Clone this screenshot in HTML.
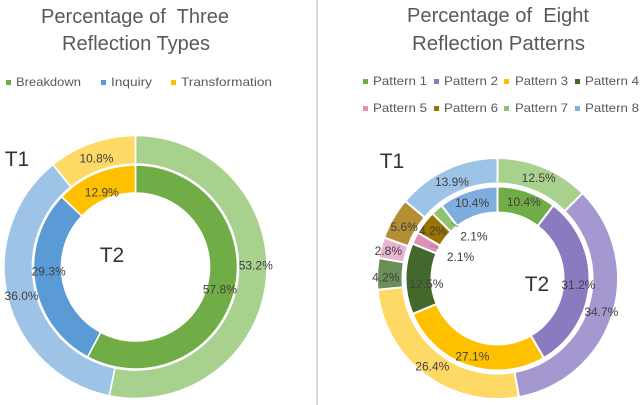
<!DOCTYPE html>
<html>
<head>
<meta charset="utf-8">
<style>
html,body{margin:0;padding:0;background:#fff;}
svg{display:block;}
text{font-family:"Liberation Sans",sans-serif;}
</style>
</head>
<body>
<svg id="chart" width="640" height="405" viewBox="0 0 640 405" xmlns="http://www.w3.org/2000/svg">
  <rect x="0" y="0" width="640" height="405" fill="#fff"/>
  <rect x="316" y="0" width="2" height="405" fill="#d9d9d9"/>

  <g fill="#595959" font-size="20">
    <text x="41" y="23" textLength="188" lengthAdjust="spacingAndGlyphs" xml:space="preserve">Percentage of  Three</text>
    <text x="62" y="50" textLength="148" lengthAdjust="spacingAndGlyphs">Reflection Types</text>
  </g>
  <g fill="#595959" font-size="20">
    <text x="407" y="22" textLength="182" lengthAdjust="spacingAndGlyphs" xml:space="preserve">Percentage of  Eight</text>
    <text x="412" y="50" textLength="173" lengthAdjust="spacingAndGlyphs">Reflection Patterns</text>
  </g>

  <g fill="#595959" font-size="12">
    <rect x="6" y="80" width="5" height="5" fill="#70AD47"/>
    <text x="16" y="86" textLength="65" lengthAdjust="spacingAndGlyphs">Breakdown</text>
    <rect x="101" y="80" width="5" height="5" fill="#5B9BD5"/>
    <text x="111" y="86" textLength="41" lengthAdjust="spacingAndGlyphs">Inquiry</text>
    <rect x="171" y="80" width="5" height="5" fill="#FFC000"/>
    <text x="181" y="86" textLength="91" lengthAdjust="spacingAndGlyphs">Transformation</text>
  </g>
  <g fill="#595959" font-size="12">
    <rect x="363" y="79" width="5" height="5" fill="#70AD47"/>
    <text x="373" y="85" textLength="54" lengthAdjust="spacingAndGlyphs">Pattern 1</text>
    <rect x="434" y="79" width="5" height="5" fill="#8C7AC0"/>
    <text x="444" y="85" textLength="54" lengthAdjust="spacingAndGlyphs">Pattern 2</text>
    <rect x="504" y="79" width="5" height="5" fill="#FFC000"/>
    <text x="515" y="85" textLength="53" lengthAdjust="spacingAndGlyphs">Pattern 3</text>
    <rect x="575" y="79" width="5" height="5" fill="#43682B"/>
    <text x="585" y="85" textLength="54" lengthAdjust="spacingAndGlyphs">Pattern 4</text>
    <rect x="363" y="106" width="5" height="5" fill="#DE8FBB"/>
    <text x="373" y="112" textLength="54" lengthAdjust="spacingAndGlyphs">Pattern 5</text>
    <rect x="434" y="106" width="5" height="5" fill="#997300"/>
    <text x="444" y="112" textLength="54" lengthAdjust="spacingAndGlyphs">Pattern 6</text>
    <rect x="504" y="106" width="5" height="5" fill="#8FC36F"/>
    <text x="515" y="112" textLength="53" lengthAdjust="spacingAndGlyphs">Pattern 7</text>
    <rect x="575" y="106" width="5" height="5" fill="#7FAEDE"/>
    <text x="585" y="112" textLength="54" lengthAdjust="spacingAndGlyphs">Pattern 8</text>
  </g>

  <g id="slices"></g>
  <g id="leaders"></g>
  <g id="labels"></g>

  <g fill="#333" font-size="21">
    <text x="17" y="166" text-anchor="middle">T1</text>
    <text x="112" y="262" text-anchor="middle">T2</text>
    <text x="392" y="168" text-anchor="middle">T1</text>
    <text x="537" y="291" text-anchor="middle">T2</text>
  </g>
</svg>

<script>
// Chart data
const typeCategories = ['breakdown', 'inquiry', 'transformation'];
const typeT1Values = [53.2, 36.0, 10.8];
const typeT2Values = [57.8, 29.3, 12.9];
const patternCategories = ['pattern-1', 'pattern-2', 'pattern-3', 'pattern-4', 'pattern-5', 'pattern-6', 'pattern-7', 'pattern-8'];
const patternT1Values = [12.5, 34.7, 26.4, 4.2, 2.8, 5.6, 0, 13.9];
const patternT2Values = [10.4, 31.2, 27.1, 12.5, 2.1, 4.2, 2.1, 10.4];

// Layout and style for each ring
const rings = [
  {
    ringName: 'types-t1', cx: 135.5, cy: 267, r0: 103, r1: 131.5, gap: 1.6,
    categories: typeCategories, values: typeT1Values,
    colors: ['#A9D18E', '#9DC3E6', '#FFD966'],
    nudges: [[3.6, -13.8], [0, 1], [0, 2]]
  },
  {
    ringName: 'types-t2', cx: 135.5, cy: 267, r0: 74, r1: 102, gap: 1.6,
    categories: typeCategories, values: typeT2Values,
    colors: ['#70AD47', '#5B9BD5', '#FFC000'],
    nudges: [[-1, 1], [0, -10], [1, 6]]
  },
  {
    ringName: 'patterns-t1', cx: 497.5, cy: 278.5, r0: 95, r1: 120.5, gap: 2,
    categories: patternCategories, values: patternT1Values,
    colors: ['#A9D18E', '#A597D0', '#FFD966', '#698E57', '#E9B3D2', '#B38E33', '#B9DBA5', '#9DC3E6'],
    nudges: [[0, -1], [1, 1], [0, 2], [-4, 3], [-5, 0], [0, 2], [0, 0], [0, 1]]
  },
  {
    ringName: 'patterns-t2', cx: 497.5, cy: 278.5, r0: 66, r1: 92, gap: 2,
    categories: patternCategories, values: patternT2Values,
    colors: ['#70AD47', '#8C7AC0', '#FFC000', '#43682B', '#DE8FBB', '#997300', '#8FC36F', '#7FAEDE'],
    nudges: [[1, -2], [2, 1], [0, 3], [8, 5], [34, 13], [-2, 0], [28.5, 17], [0, -1]],
    leaders: { 4: [0.1, 0.36], 6: [0.2, 0.45] }
  }
];

const SVG_NS = 'http://www.w3.org/2000/svg';
const slicesLayer = document.getElementById('slices');
const labelsLayer = document.getElementById('labels');
const leadersLayer = document.getElementById('leaders');

function polar(cx, cy, r, turn) {
  const a = turn * 2 * Math.PI;
  return [cx + r * Math.sin(a), cy - r * Math.cos(a)];
}

function slicePath(ring, t0, t1) {
  const large = (t1 - t0) > 0.5 ? 1 : 0;
  const a = polar(ring.cx, ring.cy, ring.r1, t0);
  const b = polar(ring.cx, ring.cy, ring.r1, t1);
  const c = polar(ring.cx, ring.cy, ring.r0, t1);
  const d = polar(ring.cx, ring.cy, ring.r0, t0);
  return 'M' + a[0] + ' ' + a[1] +
    'A' + ring.r1 + ' ' + ring.r1 + ' 0 ' + large + ' 1 ' + b[0] + ' ' + b[1] +
    'L' + c[0] + ' ' + c[1] +
    'A' + ring.r0 + ' ' + ring.r0 + ' 0 ' + large + ' 0 ' + d[0] + ' ' + d[1] + 'Z';
}

function drawRing(ring) {
  const total = ring.values.reduce(function (s, v) { return s + v; }, 0);
  let acc = 0;
  ring.values.forEach(function (value, i) {
    if (value <= 0) { return; }
    const t0 = acc / total;
    const t1 = (acc + value) / total;
    acc += value;

    const path = document.createElementNS(SVG_NS, 'path');
    
    
    path.setAttribute('d', slicePath(ring, t0, t1));
    path.setAttribute('fill', ring.colors[i]);
    path.setAttribute('stroke', '#fff');
    path.setAttribute('stroke-width', ring.gap);
    slicesLayer.appendChild(path);

    const base = polar(ring.cx, ring.cy, (ring.r0 + ring.r1) / 2, (t0 + t1) / 2);
    const nudge = ring.nudges[i];
    const lx = base[0] + nudge[0];
    const ly = base[1] + nudge[1];

    const label = document.createElementNS(SVG_NS, 'text');
    
    
    label.setAttribute('x', lx);
    label.setAttribute('y', ly + 4.3);
    label.setAttribute('text-anchor', 'middle');
    label.setAttribute('font-size', '12');
    label.setAttribute('fill', '#404040');
    label.textContent = value.toFixed(1) + '%';
    labelsLayer.appendChild(label);

    if (ring.leaders && ring.leaders[i]) {
      const span = ring.leaders[i];
      const line = document.createElementNS(SVG_NS, 'line');
      
      
      line.setAttribute('x1', base[0] + nudge[0] * span[0]);
      line.setAttribute('y1', base[1] + nudge[1] * span[0]);
      line.setAttribute('x2', base[0] + nudge[0] * span[1]);
      line.setAttribute('y2', base[1] + nudge[1] * span[1]);
      line.setAttribute('stroke', '#7f7f7f');
      line.setAttribute('stroke-width', '0.8');
      leadersLayer.appendChild(line);
    }
  });
}

rings.forEach(drawRing);
</script>
</body>
</html>
